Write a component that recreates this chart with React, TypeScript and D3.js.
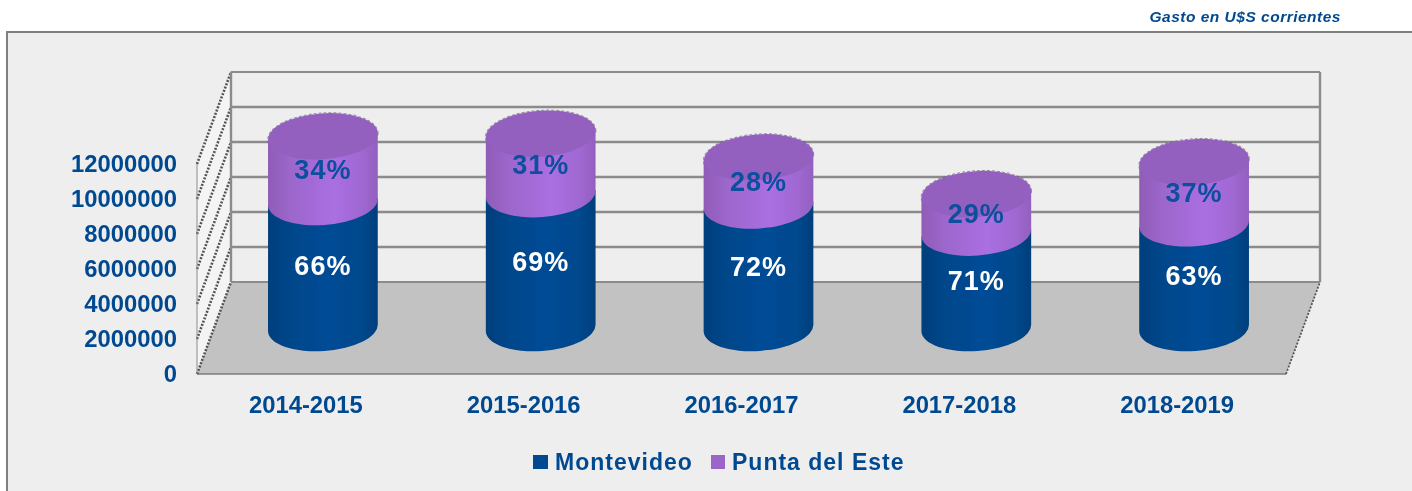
import React from "react";
import * as d3 from "d3";

const width = 1412;
const height = 491;

const periods = ["2014-2015", "2015-2016", "2016-2017", "2017-2018", "2018-2019"];
const montevideo = [7200000, 7650000, 7000000, 5450000, 5980000];
const puntaDelEste = [3750000, 3450000, 2750000, 2200000, 3500000];
const yTicks = [0, 2000000, 4000000, 6000000, 8000000, 10000000, 12000000];

const blue = "#004a90";
const purple = "#9b66c9";
const font = "'Liberation Sans', Arial, sans-serif";

// caja 3D: frente + desplazamiento hacia el fondo
const depthX = 34;
const depthY = -92;
const x = d3.scaleBand<string>().domain(periods).range([197, 1286]);
const y = d3.scaleLinear().domain([0, 12000000]).range([374, 164]);

const rx = 55;
const ry = 23;
const tilt = -4;
const tiltRad = (tilt * Math.PI) / 180;
const dx = rx * Math.cos(tiltRad);
const dy = rx * Math.sin(tiltRad);

// lateral del cilindro, entre dos alturas
function sidePath(cx: number, yTop: number, yBottom: number) {
  return (
    `M${cx - dx},${yTop - dy} L${cx - dx},${yBottom - dy} ` +
    `A${rx},${ry} ${tilt} 0 0 ${cx + dx},${yBottom + dy} ` +
    `L${cx + dx},${yTop + dy} Z`
  );
}

export default function App() {
  const floorBack = y(0) + depthY;
  const backTop = y(12000000) + depthY;
  const left = x.range()[0];
  const right = x.range()[1];

  return (
    <svg
      width={width}
      height={height}
      viewBox={`0 0 ${width} ${height}`}
      style={{ position: "absolute", left: 0, top: 0, display: "block", background: "#fff" }}
    >
      <defs>
        <filter id="soft" x="-5%" y="-5%" width="110%" height="110%">
          <feGaussianBlur stdDeviation="0.6" />
        </filter>
        <linearGradient id="blueSide">
          <stop offset="0" stopColor="#003f7c" />
          <stop offset="0.2" stopColor="#00468a" />
          <stop offset="0.55" stopColor="#004c96" />
          <stop offset="0.85" stopColor="#00488c" />
          <stop offset="1" stopColor="#003f7c" />
        </linearGradient>
        <linearGradient id="purpleSide">
          <stop offset="0" stopColor="#8f5cb6" />
          <stop offset="0.2" stopColor="#9c66cb" />
          <stop offset="0.6" stopColor="#aa6fe2" />
          <stop offset="0.85" stopColor="#a068d2" />
          <stop offset="1" stopColor="#9360bf" />
        </linearGradient>
      </defs>

      <g filter="url(#soft)">
        <rect x={7} y={32} width={width + 20} height={height + 20} fill="#eeeeee" stroke="#7f7f7f" strokeWidth={2} />

        {/* pared izquierda */}
        <polygon
          points={`${left},${y(0)} ${left + depthX},${floorBack} ${left + depthX},${backTop} ${left},${y(12000000)}`}
          fill="#f4f4f4"
        />

        {/* piso */}
        <polygon
          points={`${left + depthX},${floorBack} ${right + depthX},${floorBack} ${right},${y(0)} ${left},${y(0)}`}
          fill="#c2c2c2"
        />
        <line x1={left} x2={right} y1={y(0)} y2={y(0)} stroke="#7d7d7d" strokeWidth={1.5} />
        <line x1={right} x2={right + depthX} y1={y(0)} y2={floorBack} stroke="#555" strokeWidth={1.8} strokeDasharray="2 1.5" />

        {/* grilla */}
        {yTicks.map(t => (
          <g key={t}>
            <line
              x1={left + depthX}
              x2={right + depthX}
              y1={y(t) + depthY}
              y2={y(t) + depthY}
              stroke="#8b8b8b"
              strokeWidth={t === 0 || t === 12000000 ? 2 : 2.6}
            />
            <line
              x1={left}
              x2={left + depthX}
              y1={y(t)}
              y2={y(t) + depthY}
              stroke="#555"
              strokeWidth={2.6}
              strokeDasharray="2 1.5"
            />
          </g>
        ))}
        <line x1={left} x2={left} y1={y(0)} y2={y(12000000)} stroke="#8b8b8b" strokeWidth={1} />
        <line x1={left + depthX} x2={left + depthX} y1={floorBack} y2={backTop} stroke="#8b8b8b" strokeWidth={2.4} />
        <line x1={right + depthX} x2={right + depthX} y1={floorBack} y2={backTop} stroke="#8b8b8b" strokeWidth={2.4} />

        {/* cilindros */}
        {periods.map((p, i) => {
          const cx = x(p)! + x.bandwidth() / 2 + depthX / 2;
          const total = montevideo[i] + puntaDelEste[i];
          const yBase = y(0) + depthY / 2;
          const yMid = y(montevideo[i]) + depthY / 2;
          const yTop = y(total) + depthY / 2;
          const topEllipse = `rotate(${tilt} ${cx} ${yTop})`;
          return (
            <g key={p}>
              <ellipse
                cx={cx}
                cy={yTop}
                rx={rx + 0.3}
                ry={ry + 0.4}
                transform={topEllipse}
                fill="none"
                stroke="#5a5060"
                strokeOpacity={0.6}
                strokeWidth={1}
                strokeDasharray="3 2"
              />
              <path d={sidePath(cx, yMid, yBase)} fill="url(#blueSide)" />
              <path d={sidePath(cx, yTop, yMid)} fill="url(#purpleSide)" />
              <ellipse cx={cx} cy={yTop} rx={rx} ry={ry} transform={topEllipse} fill="#9460c0" />
              <text
                x={cx}
                y={(yBase + yMid) / 2}
                dy="0.36em"
                textAnchor="middle"
                fontFamily={font}
                fontWeight="bold"
                fontSize={27}
                letterSpacing={1}
                fill="#fff"
              >
                {Math.round((montevideo[i] / total) * 100)}%
              </text>
              <text
                x={cx}
                y={(yMid + yTop) / 2}
                dy="0.36em"
                textAnchor="middle"
                fontFamily={font}
                fontWeight="bold"
                fontSize={27}
                letterSpacing={1}
                fill="#0a4f9c"
              >
                {Math.round((puntaDelEste[i] / total) * 100)}%
              </text>
            </g>
          );
        })}

        {/* ejes */}
        <g fontFamily={font} fontWeight="bold" fill={blue}>
          {yTicks.map(t => (
            <text key={t} x={177} y={y(t) - 1} dy="0.36em" textAnchor="end" fontSize={23.8}>
              {t}
            </text>
          ))}
          {periods.map(p => (
            <text key={p} x={x(p)! + x.bandwidth() / 2} y={413} textAnchor="middle" fontSize={23.8}>
              {p}
            </text>
          ))}
        </g>

        {/* leyenda */}
        <g fontFamily={font} fontWeight="bold" fontSize={23} letterSpacing={1} fill={blue}>
          <rect x={533} y={455} width={15} height={14} fill={blue} />
          <text x={555} y={470}>Montevideo</text>
          <rect x={711} y={455} width={14} height={14} fill={purple} />
          <text x={732} y={470}>Punta del Este</text>
        </g>

        <text
          x={1341}
          y={22}
          textAnchor="end"
          fontFamily={font}
          fontWeight="bold"
          fontStyle="italic"
          fontSize={15.5}
          letterSpacing={0.5}
          fill={blue}
        >
          Gasto en U$S corrientes
        </text>
      </g>
    </svg>
  );
}
